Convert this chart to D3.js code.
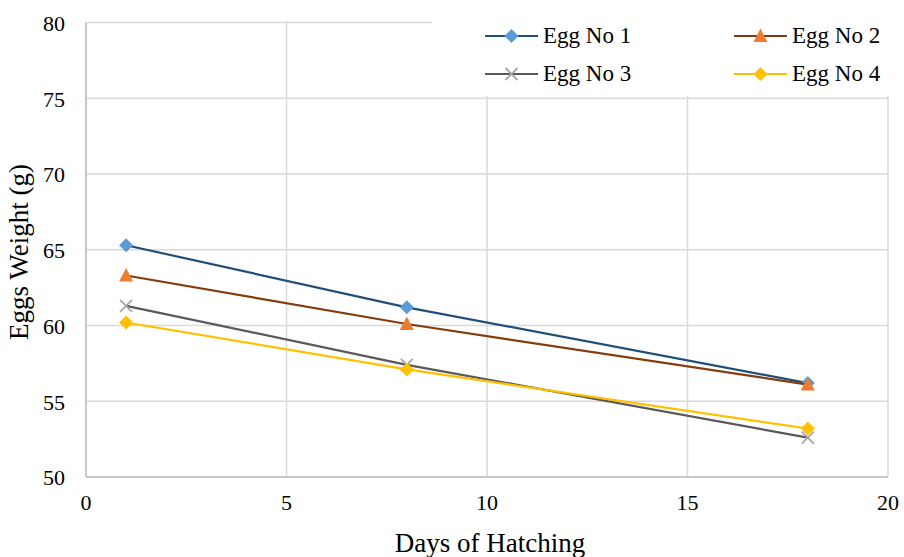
<!DOCTYPE html>
<html><head><meta charset="utf-8">
<script src="https://cdn.jsdelivr.net/npm/d3@7"></script>
</head><body style="margin:0"><svg id="c" width="904" height="557"></svg>
<script>
const days = [1, 8, 18];
const seriesNames = ["Egg No 1", "Egg No 2", "Egg No 3", "Egg No 4"];
const egg1 = [65.3, 61.2, 56.2];
const egg2 = [63.3, 60.1, 56.1];
const egg3 = [61.3, 57.4, 52.6];
const egg4 = [60.2, 57.1, 53.2];
const xTicks = [0, 5, 10, 15, 20];
const yTicks = [50, 55, 60, 65, 70, 75, 80];

const lineColors = ["#1F4E79", "#843C0C", "#595959", "#FFC000"];
const markerColors = ["#5B9BD5", "#ED7D31", "#A5A5A5", "#FFC000"];
const markerShapes = ["diamond", "triangle", "x", "diamond"];
const allSeries = [egg1, egg2, egg3, egg4];
const fontName = "Liberation Serif";
const FONT = `"${fontName}"`;

const svg = d3.select("#c");
const L = 86, R = 888, T = 22.5, B = 477;
const x = d3.scaleLinear().domain([0, 20]).range([L, R]);
const y = d3.scaleLinear().domain([50, 80]).range([B, T]);

svg.append("g").selectAll("line").data(yTicks).join("line")
  .attr("x1", L).attr("x2", R).attr("y1", d => y(d)).attr("y2", d => y(d))
  .attr("stroke", "#D9D9D9").attr("stroke-width", 1.5);
svg.append("g").selectAll("line").data(xTicks).join("line")
  .attr("y1", T).attr("y2", B).attr("x1", d => x(d)).attr("x2", d => x(d))
  .attr("stroke", "#D9D9D9").attr("stroke-width", 1.5);
svg.append("line").attr("x1", L).attr("x2", L).attr("y1", T).attr("y2", B).attr("stroke", "#BFBFBF").attr("stroke-width", 1.5);
svg.append("line").attr("x1", L).attr("x2", R).attr("y1", B).attr("y2", B).attr("stroke", "#BFBFBF").attr("stroke-width", 1.5);

// tick labels drawn from the scales
svg.append("g").selectAll("text").data(yTicks).join("text")
  .attr("x", L - 21).attr("y", d => y(d)).attr("dy", "0.38em").attr("text-anchor", "end")
  .style("font-family", FONT).style("font-size", "22px").text(d => d);
svg.append("g").selectAll("text").data(xTicks).join("text")
  .attr("x", d => x(d)).attr("y", B + 33).attr("text-anchor", "middle")
  .style("font-family", FONT).style("font-size", "22px").text(d => d);

svg.append("text").attr("x", 490).attr("y", 552).attr("text-anchor", "middle").style("font-family", FONT).style("font-size", "27px").text("Days of Hatching");
svg.append("text").attr("transform", "translate(28,252) rotate(-90)").attr("text-anchor", "middle").style("font-family", FONT).style("font-size", "27px").text("Eggs Weight (g)");

function marker(g, shape, color, cx, cy) {
  if (shape === "diamond") {
    g.append("path").attr("d", `M${cx},${cy-7}L${cx+7},${cy}L${cx},${cy+7}L${cx-7},${cy}Z`).attr("fill", color);
  } else if (shape === "triangle") {
    g.append("path").attr("d", `M${cx},${cy-7.5}L${cx+7},${cy+6}L${cx-7},${cy+6}Z`).attr("fill", color);
  } else {
    g.append("path").attr("d", `M${cx-6},${cy-6}L${cx+6},${cy+6}M${cx-6},${cy+6}L${cx+6},${cy-6}`).attr("stroke", color).attr("stroke-width", 1.8).attr("fill", "none");
  }
}

const line = d3.line().x((d, i) => x(days[i])).y(d => y(d));
allSeries.forEach((s, k) => {
  const g = svg.append("g");
  g.append("path").datum(s).attr("d", line).attr("fill", "none").attr("stroke", lineColors[k]).attr("stroke-width", 2.2);
  s.forEach((v, i) => marker(g, markerShapes[k], markerColors[k], x(days[i]), y(v)));
});

svg.append("rect").attr("x", 432).attr("y", 0).attr("width", 472).attr("height", 96).attr("fill", "#fff");
const legPos = [[485, 36], [734, 36], [485, 74], [734, 74]];
seriesNames.forEach((n, k) => {
  const [lx, ly] = legPos[k];
  const g = svg.append("g");
  g.append("line").attr("x1", lx).attr("x2", lx + 53).attr("y1", ly).attr("y2", ly).attr("stroke", lineColors[k]).attr("stroke-width", 2.2);
  marker(g, markerShapes[k], markerColors[k], lx + 26.5, ly);
  g.append("text").attr("x", lx + 58).attr("y", ly + 6.5).style("font-family", FONT).style("font-size", "23px").text(n);
});
</script></body></html>
